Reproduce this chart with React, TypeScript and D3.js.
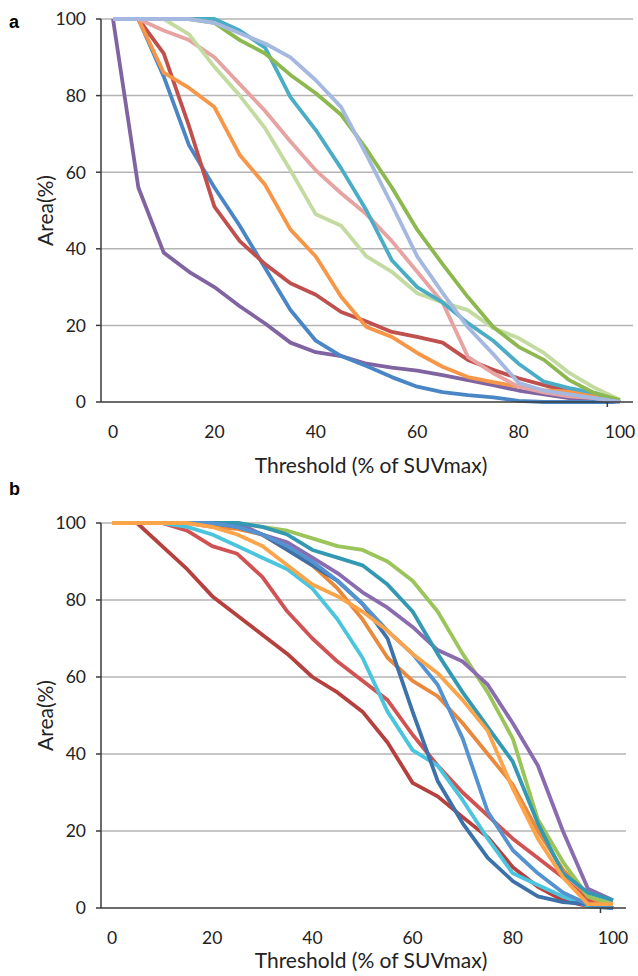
import React from "react";
import * as d3 from "d3";

// thresholds (% of SUVmax)
const thresholds = [0, 5, 10, 15, 20, 25, 30, 35, 40, 45, 50, 55, 60, 65, 70, 75, 80, 85, 90, 95, 100];
const yTicks = [0, 20, 40, 60, 80, 100];
const xTicks = [0, 20, 40, 60, 80, 100];

// panel a series (area %)
const purpleA = [100, 56, 39, 34, 30, 25, 20.5, 15.5, 13, 12, 10, 9, 8.2, 7, 5.7, 4.4, 3, 2, 1, 0.5, 0];
const blueA = [100, 100, 85, 67, 56, 46, 35, 24, 16, 12, 9.4, 6.5, 4, 2.6, 1.8, 1.2, 0.3, 0, 0, 0, 0];
const redA = [100, 100, 91, 72, 51, 42, 36, 31, 28, 23.5, 21, 18.3, 17, 15.5, 11, 8.4, 6.2, 4.4, 2.7, 1.3, 0];
const orangeA = [100, 100, 86, 82, 77, 64.5, 56.7, 45, 38, 27.5, 19.6, 17, 12.8, 9.2, 6.5, 5.2, 4, 3.1, 2.7, 2, 0];
const pinkA = [100, 100, 97, 94.5, 90, 83, 76, 68, 60.5, 54.5, 49, 42, 34, 26, 11.8, 7.5, 4, 2.5, 1.5, 1, 0];
const lightGreenA = [100, 100, 100, 96, 87.5, 80, 71.5, 60.5, 49, 46, 38, 34, 28.4, 26, 24, 19.3, 16.7, 12.8, 7.6, 3.7, 0.5];
const tealA = [100, 100, 100, 100, 100, 97, 92.5, 79.6, 71, 61, 50, 37, 30, 26, 20.6, 16, 10, 5.3, 3.6, 2.4, 0];
const greenA = [100, 100, 100, 100, 99, 94.5, 91, 85.4, 80.6, 75, 66, 56, 45, 36, 27.4, 19.6, 14.4, 11, 5.7, 2.3, 0.5];
const lavenderA = [100, 100, 100, 100, 99, 96.3, 93.6, 90, 84, 77, 64.5, 51.5, 38, 28.5, 19.5, 12.5, 5, 3, 2, 1, 0];

// panel b series (area %)
const darkRedB = [100, 100, 94, 88, 81, 76, 71, 66, 60, 56, 51, 43, 32.5, 29, 23.6, 18.4, 10.6, 5.5, 2, 0.5, 0];
const redB = [100, 100, 100, 98, 94, 92, 86, 77, 70, 64, 59, 54, 45, 37, 30, 24, 18, 13, 8, 2, 0];
const cyanB = [100, 100, 100, 99, 97, 94, 91, 88, 83, 75, 65, 51, 41, 37, 28, 18, 9, 6, 3, 0.5, 0];
const darkOrangeB = [100, 100, 100, 100, 99, 98.5, 97, 93, 89, 83, 75, 65, 59, 55, 48, 40, 32, 20, 10, 3, 0];
const greenB = [100, 100, 100, 100, 100, 100, 99, 98, 96, 94, 93, 90, 85, 77, 66, 56, 44, 23, 12, 3, 1];
const purpleB = [100, 100, 100, 100, 100, 100, 97, 95, 91, 87, 82, 78, 73, 67, 64, 58, 48, 37, 20, 5, 2];
const tealB = [100, 100, 100, 100, 100, 100, 99, 97, 93, 91, 89, 84, 77, 66, 56, 47, 38, 22, 9, 4, 2];
const darkBlueB = [100, 100, 100, 100, 100, 99, 97, 93, 89, 85, 79, 70, 51, 33, 22, 13, 7, 3, 1.5, 1, 0];
const midBlueB = [100, 100, 100, 100, 100, 99, 97, 94, 90, 85, 79, 72, 66, 58, 44, 25, 15, 9, 4, 1, 0];
const lightOrangeB = [100, 100, 100, 100, 99, 97, 94, 89, 84, 81, 77, 72, 66, 61, 54, 46, 31, 18, 8, 1, 1];

const seriesA = [
  { values: purpleA, color: "#8064a2" },
  { values: blueA, color: "#4a86c5" },
  { values: redA, color: "#c0504d" },
  { values: orangeA, color: "#f79646" },
  { values: pinkA, color: "#e6a3a1" },
  { values: lightGreenA, color: "#c3dba0" },
  { values: tealA, color: "#4bacc6" },
  { values: greenA, color: "#8cb84f" },
  { values: lavenderA, color: "#a5b8e0" },
];

const seriesB = [
  { values: darkRedB, color: "#b5403d" },
  { values: redB, color: "#d05252" },
  { values: cyanB, color: "#4bc5de" },
  { values: darkOrangeB, color: "#e8893c" },
  { values: greenB, color: "#9bc45a" },
  { values: purpleB, color: "#8a6bb0" },
  { values: tealB, color: "#3399b3" },
  { values: darkBlueB, color: "#3c71aa" },
  { values: midBlueB, color: "#5592d0" },
  { values: lightOrangeB, color: "#fba44a" },
];

const FONT = "Lato, 'Open Sans', sans-serif";

type Series = { values: number[]; color: string };

function Panel({ series, letter, top, bottom, x0, x100, gridEnd, letterY, titleY }: {
  series: Series[]; letter: string; top: number; bottom: number;
  x0: number; x100: number; gridEnd: number; letterY: number; titleY: number;
}) {
  const axisX = 101;
  const x = d3.scaleLinear().domain([0, 100]).range([x0, x100]);
  const y = d3.scaleLinear().domain([0, 100]).range([bottom, top]);
  const line = d3.line<number>().x((_, i) => x(thresholds[i])).y((d) => y(d));

  return (
    <g>
      <text x={9} y={letterY} fontFamily="Arial, sans-serif" fontWeight="bold" fontSize={18}>{letter}</text>
      {/* gridlines */}
      {yTicks.filter((t) => t > 0).map((t) => (
        <line key={t} x1={axisX} x2={gridEnd} y1={y(t)} y2={y(t)} stroke="#b4b4b4" strokeWidth={1.5} />
      ))}
      {series.map((s, i) => (
        <path key={i} d={line(s.values) || ""} fill="none" stroke={s.color} strokeWidth={3.8} strokeLinejoin="round" />
      ))}
      {/* axes */}
      <line x1={axisX} x2={axisX} y1={y(100)} y2={y(0)} stroke="#3a3a3a" strokeWidth={1.5} />
      <line x1={axisX} x2={gridEnd} y1={y(0)} y2={y(0)} stroke="#3a3a3a" strokeWidth={1.5} />
      <line x1={x(97.5)} x2={x(97.5)} y1={y(0)} y2={y(0) + 5} stroke="#3a3a3a" strokeWidth={1.5} />
      {yTicks.map((t) => (
        <g key={t}>
          <line x1={axisX - 5} x2={axisX} y1={y(t)} y2={y(t)} stroke="#3a3a3a" strokeWidth={1.5} />
          <text x={86} y={y(t)} dy="0.36em" textAnchor="end" fontFamily={FONT} fontSize={17.5} fill="#222">{t}</text>
        </g>
      ))}
      {xTicks.map((t) => (
        <text key={t} x={x(t)} y={bottom + 36} textAnchor="middle" fontFamily={FONT} fontSize={17.5} fill="#222">{t}</text>
      ))}
      <text transform={`translate(53,${(top + bottom) / 2}) rotate(-90)`} textAnchor="middle"
        fontFamily={FONT} fontSize={21} fill="#222">Area(%)</text>
      <text x={371} y={titleY} textAnchor="middle" fontFamily={FONT} fontSize={21} fill="#222">Threshold (% of SUVmax)</text>
    </g>
  );
}

export default function App() {
  return (
    <svg width={638} height={976} style={{ position: "absolute", left: 0, top: 0, background: "#fff" }}>
      <rect width={638} height={976} fill="#fff" />
      <Panel series={seriesA} letter="a" top={19} bottom={402} x0={113} x100={620} gridEnd={633} letterY={28} titleY={473} />
      <Panel series={seriesB} letter="b" top={523} bottom={908} x0={112} x100={613} gridEnd={626} letterY={495} titleY={968} />
    </svg>
  );
}
